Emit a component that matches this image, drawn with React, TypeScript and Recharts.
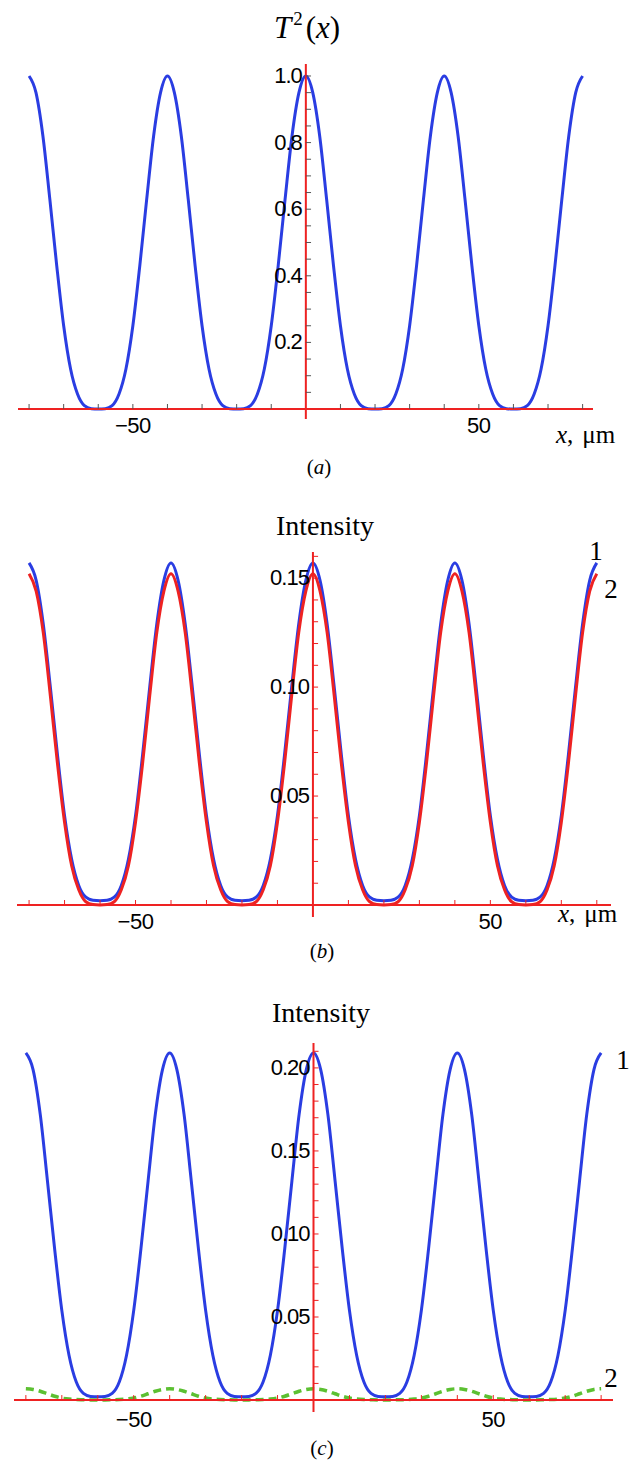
import { LineChart, Line, XAxis, YAxis, ReferenceLine, ReferenceDot } from 'recharts'

// x positions, µm
const xs = [
  -80, -78, -76, -74, -72, -70, -68, -66, -64, -62, -60, -58, -56, -54, -52, -50, -48, -46, -44, -42,
  -40, -38, -36, -34, -32, -30, -28, -26, -24, -22, -20, -18, -16, -14, -12, -10, -8, -6, -4, -2,
  0, 2, 4, 6, 8, 10, 12, 14, 16, 18, 20, 22, 24, 26, 28, 30, 32, 34, 36, 38,
  40, 42, 44, 46, 48, 50, 52, 54, 56, 58, 60, 62, 64, 66, 68, 70, 72, 74, 76, 78,
  80,
]

// (a) T^2(x)
const t2 = [
  1, 0.95, 0.82, 0.63, 0.43, 0.25, 0.12, 0.045, 0.01, 0.001, 0, 0.001, 0.01, 0.045, 0.12, 0.25, 0.43, 0.63, 0.82, 0.95,
  1, 0.95, 0.82, 0.63, 0.43, 0.25, 0.12, 0.045, 0.01, 0.001, 0, 0.001, 0.01, 0.045, 0.12, 0.25, 0.43, 0.63, 0.82, 0.95,
  1, 0.95, 0.82, 0.63, 0.43, 0.25, 0.12, 0.045, 0.01, 0.001, 0, 0.001, 0.01, 0.045, 0.12, 0.25, 0.43, 0.63, 0.82, 0.95,
  1, 0.95, 0.82, 0.63, 0.43, 0.25, 0.12, 0.045, 0.01, 0.001, 0, 0.001, 0.01, 0.045, 0.12, 0.25, 0.43, 0.63, 0.82, 0.95,
  1,
]

// (b) intensity, curve 1 (blue) and curve 2 (red)
const intB1 = [
  0.157, 0.149, 0.129, 0.1, 0.069, 0.041, 0.021, 0.009, 0.0036, 0.0022, 0.002, 0.0022, 0.0036, 0.009, 0.021, 0.041, 0.069, 0.1, 0.129, 0.149,
  0.157, 0.149, 0.129, 0.1, 0.069, 0.041, 0.021, 0.009, 0.0036, 0.0022, 0.002, 0.0022, 0.0036, 0.009, 0.021, 0.041, 0.069, 0.1, 0.129, 0.149,
  0.157, 0.149, 0.129, 0.1, 0.069, 0.041, 0.021, 0.009, 0.0036, 0.0022, 0.002, 0.0022, 0.0036, 0.009, 0.021, 0.041, 0.069, 0.1, 0.129, 0.149,
  0.157, 0.149, 0.129, 0.1, 0.069, 0.041, 0.021, 0.009, 0.0036, 0.0022, 0.002, 0.0022, 0.0036, 0.009, 0.021, 0.041, 0.069, 0.1, 0.129, 0.149,
  0.157,
]
const intB2 = [
  0.152, 0.144, 0.125, 0.096, 0.065, 0.038, 0.018, 0.007, 0.0015, 0.0002, 0, 0.0002, 0.0015, 0.007, 0.018, 0.038, 0.065, 0.096, 0.125, 0.144,
  0.152, 0.144, 0.125, 0.096, 0.065, 0.038, 0.018, 0.007, 0.0015, 0.0002, 0, 0.0002, 0.0015, 0.007, 0.018, 0.038, 0.065, 0.096, 0.125, 0.144,
  0.152, 0.144, 0.125, 0.096, 0.065, 0.038, 0.018, 0.007, 0.0015, 0.0002, 0, 0.0002, 0.0015, 0.007, 0.018, 0.038, 0.065, 0.096, 0.125, 0.144,
  0.152, 0.144, 0.125, 0.096, 0.065, 0.038, 0.018, 0.007, 0.0015, 0.0002, 0, 0.0002, 0.0015, 0.007, 0.018, 0.038, 0.065, 0.096, 0.125, 0.144,
  0.152,
]

// (c) intensity, curve 1 (blue) and curve 2 (green dashed)
const intC1 = [
  0.209, 0.199, 0.172, 0.132, 0.091, 0.054, 0.027, 0.011, 0.004, 0.0022, 0.002, 0.0022, 0.004, 0.011, 0.027, 0.054, 0.091, 0.132, 0.172, 0.199,
  0.209, 0.199, 0.172, 0.132, 0.091, 0.054, 0.027, 0.011, 0.004, 0.0022, 0.002, 0.0022, 0.004, 0.011, 0.027, 0.054, 0.091, 0.132, 0.172, 0.199,
  0.209, 0.199, 0.172, 0.132, 0.091, 0.054, 0.027, 0.011, 0.004, 0.0022, 0.002, 0.0022, 0.004, 0.011, 0.027, 0.054, 0.091, 0.132, 0.172, 0.199,
  0.209, 0.199, 0.172, 0.132, 0.091, 0.054, 0.027, 0.011, 0.004, 0.0022, 0.002, 0.0022, 0.004, 0.011, 0.027, 0.054, 0.091, 0.132, 0.172, 0.199,
  0.209,
]
const intC2 = [
  0.0068, 0.0064, 0.0053, 0.0038, 0.0023, 0.0012, 0.0006, 0.0003, 0.0002, 0.0001, 0.0001, 0.0001, 0.0002, 0.0003, 0.0006, 0.0012, 0.0023, 0.0038, 0.0053, 0.0064,
  0.0068, 0.0064, 0.0053, 0.0038, 0.0023, 0.0012, 0.0006, 0.0003, 0.0002, 0.0001, 0.0001, 0.0001, 0.0002, 0.0003, 0.0006, 0.0012, 0.0023, 0.0038, 0.0053, 0.0064,
  0.0068, 0.0064, 0.0053, 0.0038, 0.0023, 0.0012, 0.0006, 0.0003, 0.0002, 0.0001, 0.0001, 0.0001, 0.0002, 0.0003, 0.0006, 0.0012, 0.0023, 0.0038, 0.0053, 0.0064,
  0.0068, 0.0064, 0.0053, 0.0038, 0.0023, 0.0012, 0.0006, 0.0003, 0.0002, 0.0001, 0.0001, 0.0001, 0.0002, 0.0003, 0.0006, 0.0012, 0.0023, 0.0038, 0.0053, 0.0064,
  0.0068,
]

// ticks
const xTicks = [-80, -70, -60, -50, -40, -30, -20, -10, 10, 20, 30, 40, 50, 60, 70, 80]
const xLabels = [-50, 50]
const yTicksA = [0.05, 0.1, 0.15, 0.2, 0.25, 0.3, 0.35, 0.4, 0.45, 0.5, 0.55, 0.6, 0.65, 0.7, 0.75, 0.8, 0.85, 0.9, 0.95, 1.0]
const yLabelsA = [0.2, 0.4, 0.6, 0.8, 1.0]
const yTicksB = [0.01, 0.02, 0.03, 0.04, 0.05, 0.06, 0.07, 0.08, 0.09, 0.1, 0.11, 0.12, 0.13, 0.14, 0.15, 0.16]
const yLabelsB = [0.05, 0.1, 0.15]
const yTicksC = [0.01, 0.02, 0.03, 0.04, 0.05, 0.06, 0.07, 0.08, 0.09, 0.1, 0.11, 0.12, 0.13, 0.14, 0.15, 0.16, 0.17, 0.18, 0.19, 0.2, 0.21]
const yLabelsC = [0.05, 0.1, 0.15, 0.2]

const BLUE = '#2a3de2'
const RED = '#ee2222'
const GREEN = '#5cc032'
const SANS = 'Liberation Sans, Arial, sans-serif'
const SERIF = 'Liberation Serif, Times New Roman, serif'

type SeriesDef = { key: string; color: string; dash?: string; width?: number }

interface PanelProps {
  top: number
  height: number
  rows: Record<string, number>[]
  series: SeriesDef[]
  xDomain: [number, number]
  yDomain: [number, number]
  margin: { top: number; right: number; bottom: number; left: number }
  yTicks: number[]
  yLabels: number[]
  digits: number
  tickColor: string
  tickDx: number
  tickDy: number
  xLabelOffset: number
}

const fmt = (v: number) => (v < 0 ? '\u2212' + Math.abs(v) : String(v))

// tick label drawn at the position recharts computes for the reference dot
const tickLabel = (text: string, side: 'left' | 'bottom', offset: number) => (props: any) => {
  const vb = props.viewBox || {}
  const cx = vb.x + (vb.width || 0) / 2
  const cy = vb.y + (vb.height || 0) / 2
  if (side === 'left') {
    return (
      <text x={cx - offset} y={cy} dy={7} textAnchor="end" fontSize={22} fontFamily={SANS} fill="#000" letterSpacing={-1}>
        {text}
      </text>
    )
  }
  return (
    <text x={cx} y={cy + offset} dy={16} textAnchor="middle" fontSize={22} fontFamily={SANS} fill="#000" letterSpacing={-0.5}>
      {text}
    </text>
  )
}

function Panel(p: PanelProps) {
  return (
    <div style={{ position: 'absolute', left: 0, top: p.top }}>
      <LineChart width={640} height={p.height} data={p.rows} margin={p.margin}>
        <XAxis type="number" dataKey="x" domain={p.xDomain} allowDataOverflow hide />
        <YAxis type="number" domain={p.yDomain} allowDataOverflow hide />
        {p.series.map((s) => (
          <Line
            key={s.key}
            dataKey={s.key}
            type="monotone"
            stroke={s.color}
            strokeWidth={s.width ?? 3}
            strokeDasharray={s.dash}
            dot={false}
            isAnimationActive={false}
          />
        ))}
        <ReferenceLine y={0} stroke={RED} strokeWidth={2} />
        <ReferenceLine x={0} stroke={RED} strokeWidth={2} />
        {xTicks.map((t) => (
          <ReferenceLine
            key={'xt' + t}
            segment={[{ x: t, y: 0 }, { x: t, y: p.tickDy }]}
            stroke={p.tickColor}
            strokeWidth={1}
          />
        ))}
        {p.yTicks.map((t) => (
          <ReferenceLine
            key={'yt' + t}
            segment={[{ x: 0, y: t }, { x: p.tickDx, y: t }]}
            stroke={p.tickColor}
            strokeWidth={1}
          />
        ))}
        {xLabels.map((t) => (
          <ReferenceDot
            key={'xl' + t}
            x={t}
            y={0}
            r={1}
            fill="none"
            stroke="none"
            label={tickLabel(fmt(t), 'bottom', p.xLabelOffset)}
          />
        ))}
        {p.yLabels.map((t) => (
          <ReferenceDot
            key={'yl' + t}
            x={0}
            y={t}
            r={1}
            fill="none"
            stroke="none"
            label={tickLabel(t.toFixed(p.digits), 'left', 4)}
          />
        ))}
      </LineChart>
    </div>
  )
}

const rowsA = xs.map((x, i) => ({ x, t2: t2[i] }))
const rowsB = xs.map((x, i) => ({ x, b1: intB1[i], b2: intB2[i] }))
const rowsC = xs.map((x, i) => ({ x, c1: intC1[i], c2: intC2[i] }))

export default function App() {
  return (
    <div style={{ position: 'absolute', left: 0, top: 0, width: 640, height: 1470, background: '#fff', overflow: 'hidden' }}>
      <Panel
        top={0}
        height={480}
        rows={rowsA}
        series={[{ key: 't2', color: BLUE }]}
        xDomain={[-83.2, 83]}
        yDomain={[-0.03, 1.036]}
        margin={{ top: 64, right: 47, bottom: 61, left: 18 }}
        yTicks={yTicksA}
        yLabels={yLabelsA}
        digits={1}
        tickColor="#555"
        tickDx={1.5}
        tickDy={0.015}
        xLabelOffset={8}
      />
      <Panel
        top={480}
        height={500}
        rows={rowsB}
        series={[{ key: 'b1', color: BLUE }, { key: 'b2', color: RED }]}
        xDomain={[-83.4, 84]}
        yDomain={[-0.0055, 0.162]}
        margin={{ top: 72, right: 29, bottom: 63, left: 17 }}
        yTicks={yTicksB}
        yLabels={yLabelsB}
        digits={2}
        tickColor={RED}
        tickDx={1.45}
        tickDy={0.0023}
        xLabelOffset={8}
      />
      <Panel
        top={980}
        height={490}
        rows={rowsC}
        series={[{ key: 'c1', color: BLUE }, { key: 'c2', color: GREEN, dash: '8 5', width: 3.5 }]}
        xDomain={[-83.3, 83.3]}
        yDomain={[-0.0072, 0.215]}
        margin={{ top: 63, right: 27, bottom: 58, left: 14 }}
        yTicks={yTicksC}
        yLabels={yLabelsC}
        digits={2}
        tickColor={RED}
        tickDx={1.4}
        tickDy={0.003}
        xLabelOffset={11}
      />
      <svg
        width={640}
        height={1470}
        style={{ position: 'absolute', left: 0, top: 0, pointerEvents: 'none' }}
        fontFamily={SERIF}
      >
        <text x={307} y={38} textAnchor="middle" fontSize={31}>
          <tspan fontStyle="italic">T</tspan>
          <tspan fontSize={19} dy={-13} dx={2}>2</tspan>
          <tspan dy={13} dx={3}>(</tspan>
          <tspan fontStyle="italic">x</tspan>
          <tspan>)</tspan>
        </text>
        <text x={556} y={443} fontSize={25}>
          <tspan fontStyle="italic">x</tspan>
          <tspan>,</tspan>
          <tspan dx={9}>μm</tspan>
        </text>
        <text x={319} y={474} textAnchor="middle" fontSize={21}>
          (<tspan fontStyle="italic">a</tspan>)
        </text>

        <text x={325} y={535} textAnchor="middle" fontSize={28}>Intensity</text>
        <text x={596} y={560} textAnchor="middle" fontSize={27}>1</text>
        <text x={611} y={598} textAnchor="middle" fontSize={27}>2</text>
        <text x={558} y={922} fontSize={25}>
          <tspan fontStyle="italic">x</tspan>
          <tspan>,</tspan>
          <tspan dx={9}>μm</tspan>
        </text>
        <text x={322} y={958} textAnchor="middle" fontSize={21}>
          (<tspan fontStyle="italic">b</tspan>)
        </text>

        <text x={321} y={1022} textAnchor="middle" fontSize={28}>Intensity</text>
        <text x={623} y={1069} textAnchor="middle" fontSize={27}>1</text>
        <text x={611} y={1387} textAnchor="middle" fontSize={27}>2</text>
        <text x={322} y={1455} textAnchor="middle" fontSize={21}>
          (<tspan fontStyle="italic">c</tspan>)
        </text>
      </svg>
    </div>
  )
}
